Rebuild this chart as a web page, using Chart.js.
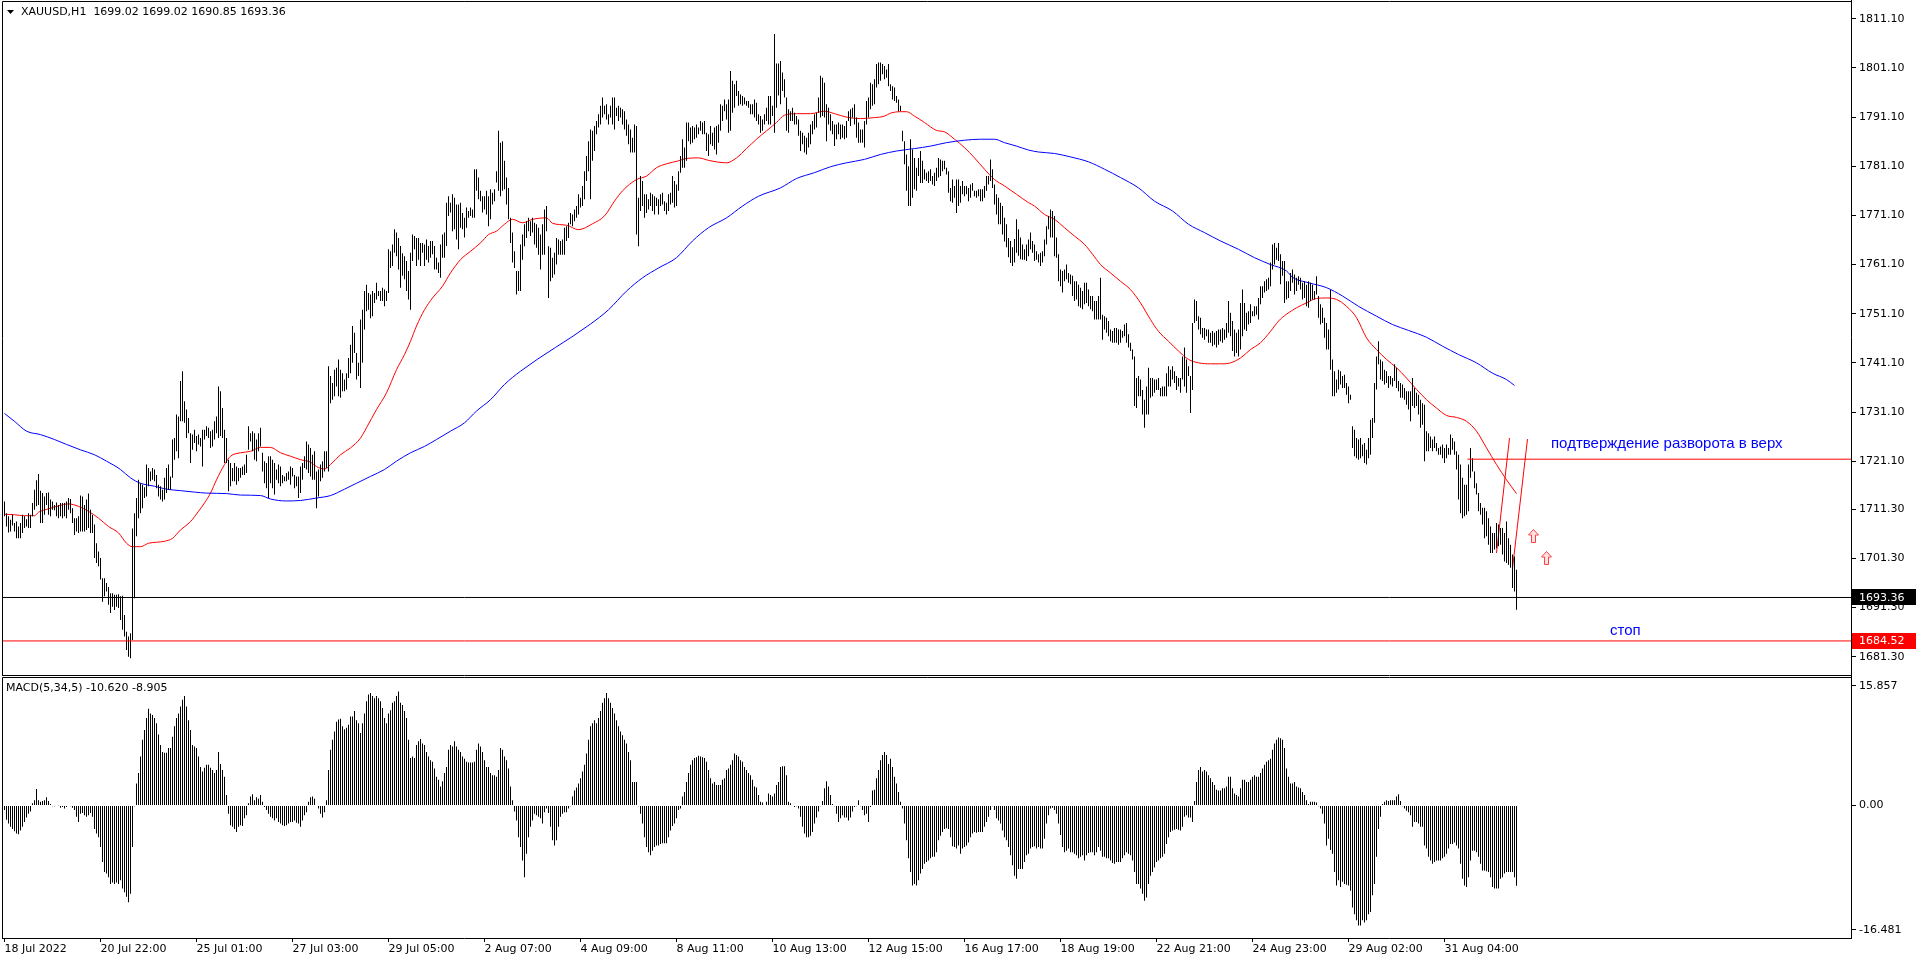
<!DOCTYPE html>
<html><head><meta charset="utf-8">
<script src="https://cdn.jsdelivr.net/npm/chart.js@4/dist/chart.umd.min.js"></script>
<style>
html,body{margin:0;padding:0;background:#fff;overflow:hidden;}
#wrap{position:relative;width:1916px;height:962px;background:#fff;}
canvas{position:absolute;left:0;}
#c1{top:0;} #c2{top:676px;}
</style></head><body>
<div id="wrap"><canvas id="c1" width="1916" height="677"></canvas><canvas id="c2" width="1916" height="286"></canvas></div>
<script>
// ---------- DATA (XAUUSD H1, bar index 0 = 18 Jul 2022 21:00) ----------
const symbolTitle = "XAUUSD,H1  1699.02 1699.02 1690.85 1693.36";
const macdTitle = "MACD(5,34,5) -10.620 -8.905";
const highs = [
1712.9,1710.5,1709.9,1709.2,1710.2,1708.5,1708.8,1707.8,1708.5,1710.2,
1709.9,1709.3,1710.5,1710.2,1712.6,1715.3,1717.2,1718.5,1715.1,1714.6,
1713.9,1714.6,1714.7,1713.3,1712.9,1712.2,1712.7,1712.2,1712.6,1712.6,
1712.6,1712.9,1713.6,1713.4,1711.5,1709.5,1709.5,1709.9,1714.1,1713.9,
1712.2,1713.3,1714.5,1711.2,1710.2,1708.2,1704.4,1702.7,1701.4,1697.3,
1697.3,1696.3,1695.5,1694.2,1694.2,1693.9,1693.9,1694.0,1693.6,1693.7,
1689.8,1686.4,1685.4,1686.1,1707.4,1710.5,1713.6,1717.3,1716.6,1716.3,
1715.8,1720.4,1719.7,1719.0,1719.7,1719.4,1718.3,1716.3,1716.0,1715.3,
1717.7,1719.7,1720.4,1718.0,1725.5,1725.8,1730.6,1730.2,1737.4,1739.4,
1733.3,1731.6,1729.9,1726.8,1726.5,1727.5,1726.2,1726.5,1725.8,1727.5,
1727.5,1728.2,1727.9,1727.2,1727.5,1729.2,1730.2,1736.3,1735.3,1731.9,
1727.5,1725.8,1721.4,1720.7,1719.7,1720.7,1720.0,1719.7,1719.7,1720.0,
1720.4,1722.4,1728.2,1726.8,1727.2,1726.8,1725.5,1726.8,1727.9,1722.8,
1721.1,1720.7,1722.1,1722.1,1721.4,1720.7,1719.4,1720.4,1720.0,1718.3,
1718.0,1718.7,1719.0,1720.0,1719.7,1718.3,1718.0,1718.0,1720.0,1720.7,
1722.1,1725.1,1724.5,1723.8,1722.4,1723.1,1719.0,1719.4,1720.4,1721.1,
1723.1,1723.1,1740.4,1738.4,1737.0,1739.7,1740.1,1741.8,1739.7,1739.0,
1737.7,1739.0,1742.1,1744.8,1748.6,1747.2,1743.1,1741.1,1749.9,1751.9,
1755.7,1757.0,1755.3,1755.0,1755.7,1755.3,1757.4,1755.7,1755.7,1756.4,
1756.0,1755.7,1764.2,1763.8,1765.2,1768.3,1767.6,1766.5,1764.9,1763.4,
1762.8,1761.8,1759.8,1763.5,1767.2,1766.9,1766.5,1766.5,1765.5,1765.5,
1765.2,1766.2,1764.9,1765.9,1765.9,1764.9,1762.5,1761.5,1765.2,1767.2,
1767.6,1773.7,1775.0,1773.7,1775.4,1774.7,1773.3,1773.3,1773.7,1771.6,
1770.6,1772.7,1772.0,1772.7,1772.3,1780.5,1780.5,1778.8,1776.1,1775.0,
1775.0,1776.1,1775.0,1776.4,1775.7,1776.4,1780.1,1788.3,1785.9,1786.2,
1782.2,1778.8,1776.7,1770.6,1767.6,1763.8,1759.8,1759.8,1765.2,1767.2,
1769.3,1769.9,1770.6,1769.9,1770.6,1769.6,1769.3,1768.6,1767.2,1769.3,
1772.3,1773.0,1764.8,1764.5,1762.5,1763.5,1766.5,1766.2,1765.9,1766.2,
1768.6,1768.9,1769.6,1771.6,1771.3,1772.3,1773.0,1775.4,1774.7,1777.1,
1780.1,1783.2,1786.2,1788.6,1788.3,1789.3,1790.3,1791.7,1793.4,1795.1,
1793.4,1793.7,1791.7,1793.4,1795.1,1795.1,1793.0,1793.4,1793.0,1792.7,
1792.3,1790.6,1789.6,1788.6,1786.9,1789.6,1789.3,1774.7,1779.1,1778.1,
1775.4,1775.4,1774.4,1775.7,1775.4,1775.0,1774.7,1774.4,1775.4,1775.7,
1774.0,1773.7,1775.4,1775.7,1779.1,1778.1,1777.4,1780.1,1783.2,1786.6,
1784.9,1790.0,1790.0,1789.0,1789.3,1789.0,1789.6,1789.0,1790.3,1790.0,
1790.3,1787.9,1787.6,1789.3,1787.9,1789.0,1789.3,1789.6,1793.7,1793.4,
1794.7,1793.7,1794.7,1800.5,1798.5,1797.8,1798.5,1796.4,1795.7,1795.4,
1795.1,1794.4,1794.4,1793.7,1793.7,1794.7,1794.0,1791.7,1791.3,1790.6,
1791.7,1793.0,1795.4,1795.4,1793.4,1808.0,1802.0,1802.0,1802.5,1800.2,
1798.8,1795.1,1792.7,1792.3,1793.0,1792.0,1791.3,1790.6,1788.3,1787.9,
1787.3,1786.9,1787.9,1789.6,1790.3,1791.7,1792.0,1795.1,1799.5,1799.1,
1798.1,1793.7,1793.0,1791.7,1790.3,1789.6,1789.6,1790.0,1789.6,1789.6,
1789.3,1790.3,1792.3,1792.7,1793.0,1793.7,1791.0,1790.0,1788.6,1788.6,
1790.3,1794.4,1795.1,1798.1,1797.8,1798.8,1801.9,1802.2,1802.2,1801.9,
1801.5,1800.8,1801.9,1797.8,1797.4,1797.1,1795.4,1794.7,1793.4,1788.3,
1786.2,1783.5,1781.1,1786.6,1784.5,1782.8,1780.8,1782.8,1784.2,1782.2,
1780.5,1779.8,1780.1,1780.5,1779.1,1779.8,1780.8,1782.8,1782.5,1782.2,
1782.2,1780.8,1780.1,1776.7,1778.4,1777.1,1778.4,1778.4,1777.1,1778.1,
1777.1,1777.1,1776.7,1777.4,1777.7,1776.1,1776.1,1776.4,1776.4,1776.4,
1777.1,1779.1,1779.1,1782.5,1780.5,1777.4,1775.4,1774.7,1773.7,1773.0,
1770.6,1769.3,1766.5,1765.9,1764.6,1766.3,1770.3,1768.3,1766.6,1765.2,
1764.2,1765.2,1766.2,1767.6,1765.9,1765.2,1763.8,1763.2,1763.5,1763.8,
1766.2,1768.9,1771.0,1772.3,1772.0,1771.0,1766.6,1763.2,1760.1,1759.8,
1760.1,1761.1,1759.4,1759.1,1758.8,1757.7,1757.7,1757.0,1756.4,1755.7,
1757.4,1757.4,1756.0,1754.7,1754.7,1753.7,1753.7,1754.7,1758.4,1750.9,
1750.6,1750.3,1749.6,1747.9,1747.6,1748.2,1748.2,1747.9,1747.9,1747.6,
1748.9,1749.2,1746.9,1745.2,1743.8,1742.4,1738.0,1738.4,1737.7,1735.6,
1733.6,1736.3,1740.1,1738.0,1738.0,1737.7,1737.7,1738.0,1736.0,1736.3,
1736.3,1739.0,1740.4,1739.7,1740.4,1739.4,1738.4,1738.0,1738.0,1742.4,
1744.2,1741.8,1740.4,1738.4,1749.2,1754.0,1753.7,1750.6,1750.3,1748.2,
1748.2,1747.9,1747.9,1747.2,1747.6,1747.2,1747.6,1747.9,1747.9,1748.2,
1747.9,1749.2,1753.7,1751.3,1749.6,1747.9,1747.2,1747.9,1753.3,1756.0,
1753.3,1751.3,1751.6,1753.0,1751.6,1752.6,1752.6,1754.3,1756.7,1756.7,
1757.7,1758.1,1758.4,1761.5,1765.2,1765.5,1764.5,1765.5,1763.2,1761.8,
1761.8,1757.7,1757.7,1759.4,1760.1,1759.1,1758.4,1758.7,1758.4,1757.4,
1757.7,1757.0,1757.7,1757.4,1757.0,1755.7,1758.7,1754.7,1753.0,1752.3,
1750.3,1749.2,1747.9,1756.0,1741.8,1739.4,1737.7,1739.7,1739.4,1738.4,
1738.7,1737.0,1736.3,1734.6,1728.2,1727.5,1725.8,1725.5,1725.8,1724.5,
1724.8,1723.4,1725.8,1729.5,1729.9,1737.0,1742.4,1745.5,1741.8,1741.4,
1739.7,1739.4,1738.4,1738.4,1738.0,1740.8,1740.1,1737.4,1737.0,1736.7,
1736.0,1735.3,1735.3,1735.3,1738.0,1736.0,1735.0,1734.6,1733.6,1732.9,
1732.6,1727.2,1726.8,1726.1,1725.5,1726.1,1724.8,1723.8,1724.1,1724.5,
1723.8,1724.5,1723.8,1726.5,1725.8,1725.1,1723.1,1722.4,1720.4,1717.7,
1716.3,1716.3,1720.4,1723.8,1721.7,1719.0,1716.6,1714.6,1712.6,1711.6,
1711.6,1710.9,1709.5,1707.8,1706.5,1706.5,1708.5,1708.2,1707.5,1707.5,
1706.5,1708.8,1705.4,1704.1,1702.1,1701.7,1699.02];
const lows = [
1709.9,1707.8,1706.6,1706.8,1708.0,1706.8,1705.4,1705.4,1705.4,1706.5,
1707.5,1707.8,1707.5,1707.5,1709.9,1711.2,1711.9,1712.2,1708.5,1708.5,
1710.2,1712.2,1710.2,1709.9,1711.2,1711.1,1709.9,1709.5,1709.9,1709.5,
1709.9,1709.5,1711.2,1710.5,1708.5,1706.1,1706.8,1706.5,1706.8,1706.8,
1706.8,1707.1,1707.5,1706.5,1706.5,1701.4,1700.4,1699.7,1697.0,1692.5,
1693.6,1694.6,1691.9,1690.2,1691.5,1690.8,1691.5,1691.2,1688.8,1686.8,
1685.4,1682.7,1681.3,1681.0,1684.7,1693.2,1705.8,1709.5,1710.5,1711.5,
1713.6,1713.9,1716.0,1717.0,1717.3,1717.0,1715.6,1713.9,1713.3,1712.9,
1713.3,1714.6,1715.3,1715.3,1717.7,1721.4,1723.1,1721.7,1729.2,1729.2,
1728.9,1725.8,1726.8,1720.7,1723.4,1724.8,1723.1,1724.5,1724.1,1720.0,
1725.5,1726.2,1725.8,1723.8,1724.1,1725.5,1726.8,1725.8,1726.2,1725.8,
1720.7,1720.7,1715.0,1716.0,1717.0,1717.0,1716.3,1717.0,1717.7,1718.3,
1718.3,1718.7,1723.4,1725.1,1723.1,1721.4,1721.1,1723.1,1724.1,1719.0,
1716.6,1715.6,1713.6,1716.6,1715.6,1714.3,1717.3,1716.6,1716.0,1716.6,
1717.0,1717.0,1717.3,1716.3,1718.0,1715.6,1716.0,1713.6,1714.6,1717.3,
1719.7,1719.4,1718.7,1718.0,1717.3,1717.3,1711.5,1713.9,1717.0,1717.7,
1719.0,1719.7,1719.0,1732.9,1733.6,1734.3,1736.3,1734.3,1734.0,1735.3,
1735.3,1735.7,1738.0,1739.0,1741.1,1743.1,1737.7,1738.4,1736.0,1741.1,
1747.9,1751.6,1751.9,1750.2,1750.6,1753.3,1754.0,1754.7,1753.7,1753.7,
1752.6,1753.7,1755.3,1760.4,1760.8,1763.5,1762.8,1760.1,1756.4,1758.8,
1758.1,1755.7,1754.0,1751.9,1761.8,1764.2,1760.8,1762.1,1760.8,1763.5,
1760.8,1762.1,1761.5,1762.5,1763.2,1760.1,1760.1,1759.4,1758.4,1762.5,
1762.5,1764.9,1771.0,1771.7,1767.9,1768.3,1766.2,1764.2,1768.6,1768.3,
1766.6,1768.6,1770.6,1771.0,1770.6,1770.6,1776.1,1774.4,1774.0,1771.7,
1772.3,1771.3,1768.9,1770.3,1773.3,1774.0,1777.8,1776.1,1775.0,1776.1,
1776.4,1773.3,1770.3,1765.5,1761.5,1760.4,1755.0,1755.7,1755.7,1762.1,
1764.8,1766.5,1767.9,1766.9,1767.6,1765.2,1764.5,1763.1,1760.1,1763.1,
1763.1,1767.9,1754.3,1757.7,1758.4,1759.1,1761.1,1763.1,1763.1,1763.1,
1763.1,1765.9,1766.5,1769.3,1768.9,1769.9,1770.6,1771.3,1772.7,1773.0,
1774.4,1778.1,1780.1,1774.4,1782.2,1784.2,1787.6,1789.0,1789.6,1791.0,
1791.7,1790.6,1789.6,1791.0,1789.6,1788.6,1791.3,1790.3,1791.0,1789.6,
1788.6,1787.3,1785.6,1783.9,1783.9,1783.9,1767.2,1764.8,1772.0,1773.0,
1770.6,1771.6,1772.3,1773.0,1772.0,1771.3,1773.0,1771.3,1773.0,1773.3,
1772.0,1771.3,1772.0,1773.3,1773.7,1772.7,1773.0,1776.1,1779.8,1780.8,
1780.8,1782.2,1786.2,1785.6,1785.9,1786.6,1786.9,1787.6,1788.3,1787.6,
1787.6,1784.2,1783.2,1785.6,1785.2,1784.5,1783.5,1785.9,1788.3,1790.3,
1792.3,1790.6,1787.9,1788.3,1792.0,1793.0,1795.4,1793.4,1793.7,1793.4,
1793.7,1793.4,1793.0,1791.7,1791.7,1791.0,1790.3,1789.6,1787.9,1788.3,
1789.6,1790.3,1789.6,1789.6,1791.3,1787.9,1793.0,1795.5,1793.7,1796.4,
1795.1,1788.3,1787.9,1790.3,1790.3,1789.6,1789.6,1787.3,1784.2,1785.6,
1783.9,1783.5,1784.9,1785.6,1787.6,1788.6,1789.0,1792.0,1791.0,1791.3,
1791.0,1786.2,1789.6,1788.3,1787.6,1785.2,1786.6,1787.6,1786.6,1786.9,
1786.6,1786.9,1790.3,1789.3,1791.0,1789.6,1786.9,1785.9,1785.9,1785.9,
1784.9,1789.6,1791.0,1792.7,1793.4,1793.7,1797.1,1797.8,1798.5,1799.8,
1798.8,1799.1,1797.4,1796.4,1794.7,1794.4,1794.0,1792.3,1792.3,1786.2,
1781.5,1776.1,1773.0,1773.0,1774.7,1776.4,1776.1,1779.1,1777.7,1777.7,
1778.4,1778.1,1777.7,1778.1,1777.4,1777.1,1778.1,1778.8,1779.1,1780.1,
1780.5,1779.4,1775.7,1774.0,1773.7,1774.7,1771.6,1773.0,1773.7,1775.4,
1775.0,1775.4,1774.0,1774.7,1776.1,1775.0,1774.7,1775.0,1774.0,1774.0,
1774.7,1776.1,1777.4,1778.1,1776.7,1773.3,1771.3,1769.3,1769.3,1767.2,
1765.8,1764.6,1762.6,1761.4,1760.8,1761.5,1763.5,1762.9,1762.2,1762.1,
1762.1,1761.8,1762.8,1764.2,1763.5,1761.8,1762.1,1761.5,1760.8,1761.5,
1762.8,1765.2,1768.3,1766.6,1766.6,1762.8,1762.5,1757.7,1756.7,1755.4,
1757.7,1758.1,1757.4,1757.1,1754.7,1753.7,1754.0,1752.6,1752.3,1752.0,
1753.0,1753.3,1752.6,1752.0,1751.6,1749.9,1749.9,1749.9,1749.9,1745.8,
1747.9,1747.2,1746.5,1745.5,1745.2,1745.2,1745.2,1744.8,1745.2,1746.2,
1746.5,1745.2,1744.2,1743.5,1741.8,1732.3,1731.9,1734.3,1734.3,1730.6,
1727.9,1730.6,1730.6,1734.0,1734.3,1735.0,1735.6,1735.6,1734.3,1734.3,
1734.3,1734.3,1736.3,1736.3,1737.7,1737.0,1735.6,1736.3,1735.0,1737.7,
1736.3,1735.0,1738.4,1730.9,1735.6,1749.2,1749.6,1747.9,1746.9,1746.2,
1745.8,1746.5,1745.2,1745.2,1744.5,1744.8,1744.2,1744.8,1745.5,1745.2,
1745.8,1746.2,1747.2,1746.5,1743.5,1742.4,1743.1,1742.4,1743.8,1746.5,
1747.9,1747.6,1748.9,1749.2,1750.6,1750.6,1750.9,1749.9,1753.0,1754.3,
1755.4,1755.7,1756.0,1756.7,1760.1,1761.1,1762.1,1761.8,1757.1,1758.8,
1753.3,1754.0,1754.3,1755.7,1757.4,1755.0,1755.7,1757.0,1756.0,1754.0,
1754.3,1752.6,1752.3,1753.7,1754.0,1754.0,1755.0,1750.3,1748.9,1749.2,
1746.2,1743.8,1743.8,1739.7,1734.3,1734.3,1735.0,1735.7,1736.7,1736.0,
1736.0,1734.6,1732.9,1733.6,1723.8,1722.1,1721.7,1721.4,1721.7,1722.1,
1720.7,1720.4,1721.7,1722.4,1725.8,1728.9,1735.7,1740.8,1737.7,1737.4,
1736.7,1737.0,1736.0,1736.7,1736.3,1737.4,1736.0,1735.3,1734.0,1734.0,
1733.6,1732.6,1731.6,1729.2,1732.3,1731.9,1732.3,1730.6,1727.9,1728.5,
1721.1,1723.1,1723.1,1723.8,1723.1,1723.8,1723.1,1722.4,1722.4,1721.7,
1720.7,1721.7,1722.4,1722.4,1723.4,1722.4,1719.4,1713.3,1710.5,1709.5,
1709.9,1710.2,1710.9,1717.7,1719.0,1715.6,1714.3,1710.9,1710.2,1708.2,
1705.4,1705.8,1704.1,1702.4,1702.4,1703.1,1703.4,1703.8,1704.1,1702.1,
1700.7,1700.4,1700.0,1699.4,1695.3,1694.6,1690.85];
const macd = [
-0.6,-1.9,-2.4,-2.8,-3.1,-3.4,-3.7,-3.8,-3.3,-2.8,
-2.2,-1.6,-1.1,-0.8,0.3,0.7,2.2,0.7,0.5,0.6,
0.7,1.1,0.6,0.2,-0.1,-0.1,0.05,-0.05,-0.3,-0.2,
-0.4,-0.2,0.0,-0.1,-0.3,-0.6,-1.5,-2.2,-1.1,-1.0,
-1.3,-1.5,-1.3,-1.0,-1.5,-3.1,-3.7,-4.2,-5.5,-7.5,
-8.8,-9.0,-9.5,-10.4,-10.2,-10.4,-10.2,-10.4,-9.9,-11.0,
-11.5,-12.1,-12.8,-11.7,-5.5,-0.1,2.9,4.3,6.5,8.7,
10.0,11.6,12.8,12.2,12.0,11.6,10.9,9.4,8.0,7.1,
7.0,7.0,7.6,7.6,9.1,10.5,11.6,12.2,13.1,14.0,
14.5,13.1,11.3,10.0,8.0,7.8,7.6,6.5,5.1,4.5,
5.0,5.4,5.4,5.0,4.7,4.3,4.7,7.1,5.5,4.7,
3.8,1.4,-1.1,-2.6,-2.8,-3.1,-3.5,-2.8,-2.6,-2.7,
-1.7,-1.3,0.3,1.2,1.5,0.7,1.1,0.9,1.4,0.5,
-0.2,-0.6,-1.1,-1.5,-1.7,-2.0,-1.7,-2.2,-2.4,-2.6,
-2.7,-2.6,-2.4,-2.2,-2.2,-2.0,-2.3,-2.4,-2.8,-2.0,
-1.3,-0.9,0.5,1.1,1.2,0.9,0.05,-0.4,-1.1,-1.6,
-0.9,0.7,4.7,7.4,8.7,9.8,11.1,11.4,11.5,10.5,
10.1,10.3,10.7,11.8,11.8,12.5,11.3,10.9,9.6,10.9,
12.2,13.8,14.7,14.9,14.5,14.2,14.5,14.2,13.8,12.9,
11.6,10.9,12.2,12.6,13.6,13.8,14.5,15.1,13.6,13.3,
12.5,11.6,8.7,6.3,6.5,6.3,8.0,8.5,8.8,8.2,
8.0,7.1,6.5,6.0,5.8,4.9,3.8,3.4,2.5,3.2,
4.3,5.1,7.4,8.0,7.8,8.5,7.8,7.4,7.1,6.5,
6.2,5.8,5.7,5.7,5.7,5.8,7.4,8.2,7.8,7.1,
6.0,5.1,5.1,4.3,4.0,4.0,3.8,4.7,7.6,7.4,
6.5,6.0,4.9,2.5,0.7,-0.8,-2.0,-4.2,-5.5,-7.3,
-9.5,-6.4,-4.2,-2.8,-2.0,-1.1,-1.3,-1.5,-1.7,-2.4,
-0.9,-0.4,-1.0,-2.8,-4.6,-5.3,-4.6,-2.8,-1.5,-1.1,
-0.9,-0.9,-0.4,-0.1,1.2,2.0,2.4,2.9,3.6,4.5,
5.4,6.9,8.7,10.5,10.9,11.3,10.9,11.6,12.5,13.6,
14.2,14.9,14.2,13.6,12.9,12.2,11.3,10.5,9.8,9.3,
8.7,8.2,7.1,6.0,3.1,3.1,3.1,-0.1,-1.1,-2.4,
-4.2,-5.5,-6.2,-6.6,-6.0,-5.5,-5.3,-5.3,-5.1,-5.0,
-5.0,-5.0,-4.2,-3.3,-2.7,-2.4,-1.7,-0.6,-0.4,1.2,
1.8,3.1,4.3,5.4,6.0,6.3,6.4,6.6,6.5,6.4,
6.3,5.8,4.7,3.6,2.9,3.1,2.7,2.7,2.7,3.4,
3.6,4.7,4.9,5.4,6.0,6.9,6.7,6.5,6.0,5.8,
5.1,4.7,4.3,4.0,3.4,2.5,2.4,1.4,0.5,0.4,
0.05,0.5,1.6,
1.4,1.2,1.6,2.7,3.1,5.1,5.2,5.2,4.0,0.5,
0.3,0.05,-0.2,-0.1,-0.4,-1.5,-2.8,-3.7,-4.2,-4.2,
-4.0,-3.5,-2.4,-1.6,-0.8,-0.1,0.6,2.3,3.2,2.5,
1.4,0.2,-0.1,-1.1,-2.2,-1.7,-1.3,-1.6,-1.6,-2.0,
-1.6,-0.8,-0.2,-0.1,0.7,-0.1,-0.6,-1.3,-1.1,-2.2,
-0.2,2.0,2.1,3.6,4.7,6.0,6.7,7.1,6.7,5.5,
6.2,5.1,3.8,2.9,1.8,0.5,-0.4,-2.4,-4.6,-7.0,
-8.8,-10.6,-10.4,-10.6,-9.9,-9.0,-8.4,-7.7,-7.5,-7.3,
-7.0,-6.8,-6.8,-6.2,-4.6,-4.0,-3.5,-3.1,-3.0,-3.1,
-4.2,-5.4,-5.5,-5.7,-5.3,-6.4,-5.7,-5.5,-5.3,-4.9,
-4.2,-3.7,-3.5,-3.6,-3.5,-3.5,-3.5,-2.8,-2.2,-1.5,
-0.6,-0.1,-0.6,-1.7,-2.0,-2.4,-3.3,-4.2,-4.6,-5.5,
-6.6,-7.9,-9.3,-9.7,-8.4,-8.4,-8.4,-7.5,-6.6,-6.4,
-5.7,-5.5,-5.4,-5.7,-5.5,-5.7,-5.7,-4.4,-2.4,-1.3,
-0.4,-0.3,-0.6,-1.1,-2.4,-3.9,-5.5,-6.2,-6.0,-5.7,
-6.2,-6.2,-6.4,-6.6,-7.0,-6.8,-6.6,-7.3,-6.6,-6.3,
-6.2,-6.2,-6.6,-6.2,-5.5,-6.0,-6.8,-6.8,-7.0,-7.0,
-7.3,-7.6,-7.7,-7.5,-7.5,-7.5,-7.0,-6.6,-6.2,-6.4,
-6.6,-7.3,-8.8,-10.4,-10.4,-11.0,-11.7,-12.6,-12.2,-10.4,
-9.3,-8.8,-8.2,-7.5,-7.3,-7.0,-6.8,-6.4,-5.1,-4.2,
-3.5,-3.3,-3.2,-3.1,-3.2,-3.3,-2.8,-1.5,-1.3,-1.6,
-1.6,-2.2,0.6,3.1,4.7,5.1,4.5,4.7,4.5,4.0,
3.6,3.1,2.7,2.1,2.0,2.0,2.3,2.3,2.5,3.8,
3.8,2.3,1.6,1.4,1.2,2.3,3.4,3.4,3.1,3.1,
3.4,3.8,4.0,3.8,3.8,4.3,4.9,5.4,5.8,6.0,
6.2,7.4,8.2,8.7,9.0,8.9,8.7,7.6,4.9,3.8,
2.9,2.9,3.1,2.5,2.4,2.3,1.8,1.4,0.7,0.2,
0.5,0.5,0.5,0.4,-0.1,-0.4,-1.1,-2.4,-5.3,-4.4,
-5.9,-6.4,-8.8,-10.6,-9.9,-10.8,-10.1,-10.4,-10.5,-10.6,
-11.3,-13.5,-14.4,-15.2,-15.9,-15.9,-15.2,-15.5,-15.2,-14.4,
-14.1,-11.9,-10.4,-6.8,-3.1,-1.5,0.2,0.5,0.7,0.6,
0.7,0.7,0.7,1.2,1.5,0.6,-0.1,-0.4,-0.7,-0.9,
-1.3,-2.8,-2.2,-2.2,-2.4,-2.8,-2.8,-5.3,-5.7,-6.8,
-7.3,-7.7,-7.5,-7.3,-7.3,-7.3,-7.0,-6.8,-6.4,-5.7,
-5.1,-5.1,-4.9,-5.3,-5.7,-7.7,-9.7,-10.6,-10.8,-9.5,
-7.3,-6.0,-6.0,-6.2,-6.8,-7.7,-8.6,-8.6,-8.7,-8.8,
-9.5,-10.8,-11.0,-11.0,-11.0,-9.7,-9.5,-9.0,-8.8,
-8.8,-8.8,-8.8,-9.5,-10.62];
// moving averages: bar index / value pairs
const redMaBars = [0,5,10,15,17,22,27,32,37,42,47,52,57,61,64,68,72,76,80,84,88,93,97,100,103,106,110,113,118,123,128,133,138,143,148,153,156,160,163,168,173,178,181,186,191,196,200,203,206,210,214,219,223,228,233,238,242,246,250,254,259,264,271,274,281,287,294,300,305,309,316,321,326,331,337,341,347,352,361,366,371,376,381,386,390,396,403,410,415,421,428,435,440,443,448,451,455,460,466,470,475,480,485,490,495,500,506,512,515,520,525,530,535,540,544,548,553,558,563,568,573,577,582,587,592,597,603,608,613,618,623,628,633,637,641,646,651,656,661,666,671,676,681,686,691,696,701,706,711,716,721,726,731,736,741,746,751,756];
const redMaVals = [1710.3,1710.2,1710.0,1710.0,1710.7,1711.4,1712.0,1712.4,1711.9,1710.9,1709.5,1707.8,1706.5,1704.4,1703.7,1703.7,1704.4,1704.6,1704.8,1705.4,1707.1,1708.8,1710.9,1712.6,1714.6,1717.3,1720.4,1722.1,1722.8,1723.1,1723.9,1723.9,1722.8,1722.1,1721.4,1720.9,1720.0,1719.5,1720.4,1722.4,1723.8,1725.8,1727.9,1731.6,1735.0,1739.7,1742.8,1745.5,1748.6,1751.9,1754.3,1756.7,1759.4,1762.1,1763.8,1765.5,1767.2,1767.9,1769.3,1770.3,1769.6,1770.3,1770.6,1769.5,1769.1,1768.2,1769.4,1771.0,1774.0,1776.1,1778.4,1779.1,1780.8,1781.6,1782.2,1782.7,1782.8,1782.3,1781.8,1782.8,1784.7,1786.6,1788.3,1790.0,1791.5,1791.8,1791.8,1792.3,1791.8,1791.1,1790.8,1791.0,1791.3,1791.9,1792.2,1792.2,1791.3,1790.0,1788.4,1788.1,1786.6,1784.9,1782.8,1780.5,1778.4,1777.1,1775.4,1773.7,1773.0,1771.3,1770.3,1768.6,1766.9,1765.2,1763.2,1761.1,1759.4,1757.7,1756.0,1753.3,1749.9,1747.5,1745.5,1743.5,1741.8,1741.1,1740.9,1740.9,1741.1,1742.1,1743.8,1745.2,1747.5,1749.6,1751.0,1752.3,1753.3,1754.2,1754.3,1754.0,1752.6,1750.3,1746.2,1743.8,1741.8,1740.1,1738.0,1735.7,1733.6,1731.9,1730.4,1730.0,1729.2,1727.2,1723.8,1720.4,1717.3,1714.5];
const blueMaBars = [0,5,11,18,25,31,38,45,51,58,63,68,75,81,88,95,101,111,118,128,133,141,148,156,163,170,176,183,190,196,203,210,216,223,230,236,243,250,258,293,302,311,319,327,336,344,352,361,369,377,388,396,405,413,421,430,438,446,455,463,471,480,488,495,500,506,512,517,525,533,542,550,558,567,575,584,592,600,608,617,625,633,641,644,652,661,669,677,686,694,702,711,719,727,736,744,751,755];
const blueMaVals = [1730.8,1729.2,1727.2,1726.5,1725.5,1724.5,1723.4,1722.4,1721.1,1719.4,1717.7,1716.6,1716.0,1715.4,1715.1,1714.8,1714.6,1714.5,1714.2,1714.1,1713.4,1713.0,1713.1,1713.6,1714.1,1715.4,1716.6,1718.0,1719.4,1721.1,1722.8,1724.1,1725.5,1727.2,1728.9,1731.3,1733.6,1736.7,1739.4,1749.0,1751.9,1755.7,1758.4,1760.4,1762.5,1765.9,1768.6,1770.6,1773.0,1775.0,1776.7,1778.6,1779.8,1781.0,1781.8,1782.5,1783.5,1784.2,1784.7,1785.2,1785.9,1786.4,1786.6,1786.6,1785.9,1785.2,1784.4,1784.0,1783.7,1783.0,1782.0,1780.5,1778.8,1776.7,1774.0,1772.0,1769.3,1767.6,1765.9,1764.2,1762.5,1761.1,1759.8,1758.5,1757.4,1756.4,1754.7,1752.6,1750.6,1748.9,1747.7,1746.3,1744.5,1742.8,1741.1,1739.0,1737.7,1736.5];
const timeTickBars = [0,48,96,144,192,240,288,336,384,432,480,528,576,624,672,720];
const timeLabels = ["18 Jul 2022","20 Jul 22:00","25 Jul 01:00","27 Jul 03:00","29 Jul 05:00","2 Aug 07:00","4 Aug 09:00","8 Aug 11:00","10 Aug 13:00","12 Aug 15:00","16 Aug 17:00","18 Aug 19:00","22 Aug 21:00","24 Aug 23:00","29 Aug 02:00","31 Aug 04:00"];
const priceTicks = [1811.10,1801.10,1791.10,1781.10,1771.10,1761.10,1751.10,1741.10,1731.10,1721.10,1711.30,1701.30,1691.30,1681.30];
const macdTicks = [15.857,0,-16.481];
const macdTickLabels = ["15.857","0.00","-16.481"];
const lastPrice = 1693.36;
const stopPrice = 1684.52;
const confirmPrice = 1721.5;
const confirmStartBar = 731.5;
const trendLine1 = [[746,1702.4],[752.5,1725.8]];
const trendLine2 = [[754,1699.3],[761.5,1725.6]];
const arrowMarks = [[764.25,1705.9],[770.75,1701.4]];
const confirmText = {bar:773.25, price:1724.6, text:"подтверждение разворота в верх"};
const stopText = {bar:802.75, price:1686.65, text:"стоп"};

// ---------- CHART ----------
Chart.defaults.font.family = "DejaVu Sans";
Chart.defaults.font.size = 11;
Chart.defaults.color = "#000";
const XMIN = -1.25, XMAX = 923.75;
const FONT = '11px "DejaVu Sans"';
const n = Math.min(highs.length, lows.length);
const barData = [];
for (let i = 0; i < n; i++) barData.push({x:i, y:[lows[i], highs[i]]});
const pts = (xs, ys) => xs.map((x,i)=>({x:x, y:ys[i]}));
const lineDs = (data, color, extra) => Object.assign({type:'line', data, borderColor:color, borderWidth:1, pointRadius:0, fill:false}, extra||{});
const fixY = (s) => { s.width = 64; s.paddingTop = 0; s.paddingBottom = 0; };

const framePlugin = () => ({
  id:'frame',
  afterDraw(chart){
    const c = chart.ctx, a = chart.chartArea;
    c.save(); c.strokeStyle='#000'; c.lineWidth=1; c.beginPath();
    c.moveTo(a.left+0.5, a.top-0.5); c.lineTo(a.right, a.top-0.5);
    c.moveTo(a.left+0.5, a.top-0.5); c.lineTo(a.left+0.5, a.bottom+0.5);
    c.moveTo(a.right-0.5, 0); c.lineTo(a.right-0.5, a.bottom+0.5);
    c.moveTo(a.left, a.bottom+0.5); c.lineTo(a.right, a.bottom+0.5);
    c.stroke(); c.restore();
  }
});

function drawUpArrow(c, x, y){
  // outlined up-arrow (MT4 arrow object), centred on x,y
  c.beginPath();
  c.moveTo(x, y-7);
  c.lineTo(x+5, y-1.5);
  c.lineTo(x+2, y-1.5);
  c.lineTo(x+2, y+6);
  c.lineTo(x-2, y+6);
  c.lineTo(x-2, y-1.5);
  c.lineTo(x-5, y-1.5);
  c.closePath();
  c.fillStyle = '#ffe2e2'; c.fill();
  c.strokeStyle = '#ff4040'; c.lineWidth = 1; c.stroke();
}

const mainAnno = {
  id:'mainAnno',
  afterDatasetsDraw(chart){
    const c = chart.ctx, xs = chart.scales.x, ys = chart.scales.y;
    c.save();
    c.fillStyle = '#0000ff'; c.font = '15px "Liberation Sans"'; c.textAlign='left'; c.textBaseline='middle';
    c.fillText(confirmText.text, xs.getPixelForValue(confirmText.bar), ys.getPixelForValue(confirmText.price));
    c.fillText(stopText.text, xs.getPixelForValue(stopText.bar), ys.getPixelForValue(stopText.price));
    arrowMarks.forEach(m => drawUpArrow(c, Math.round(xs.getPixelForValue(m[0]))+0.5, Math.round(ys.getPixelForValue(m[1]))+0.5));
    c.restore();
  },
  afterDraw(chart){
    const c = chart.ctx, ys = chart.scales.y, a = chart.chartArea;
    c.save();
    c.fillStyle='#000';
    c.beginPath(); c.moveTo(7,10); c.lineTo(14,10); c.lineTo(10.5,14); c.closePath(); c.fill();
    c.font = FONT; c.textAlign='left'; c.textBaseline='middle';
    c.fillText(symbolTitle, 21, 12.5);
    const box = (v, bg) => {
      const y = ys.getPixelForValue(v);
      c.fillStyle = bg; c.fillRect(a.right, Math.round(y)-8, 1916-a.right, 16);
      c.fillStyle = '#fff'; c.fillText(v.toFixed(2), a.right+7, y+0.5);
    };
    box(lastPrice, '#000');
    box(stopPrice, '#ff0000');
    c.restore();
  }
};

new Chart(document.getElementById('c1'), {
  type:'bar',
  data:{datasets:[
    lineDs([{x:XMIN,y:lastPrice},{x:XMAX,y:lastPrice}], '#000'),
    lineDs([{x:XMIN,y:stopPrice},{x:XMAX,y:stopPrice}], '#ff0000'),
    lineDs([{x:confirmStartBar,y:confirmPrice},{x:XMAX,y:confirmPrice}], '#ff0000'),
    {type:'bar', data:barData, backgroundColor:'#000', barThickness:1, inflateAmount:0, borderWidth:0, borderSkipped:false, grouped:false},
    lineDs(pts(blueMaBars, blueMaVals), '#0000ff', {cubicInterpolationMode:'monotone'}),
    lineDs(pts(redMaBars, redMaVals), '#ff0000', {cubicInterpolationMode:'monotone'}),
    lineDs(trendLine1.map(p=>({x:p[0],y:p[1]})), '#ff0000'),
    lineDs(trendLine2.map(p=>({x:p[0],y:p[1]})), '#ff0000')
  ]},
  options:{
    animation:false, responsive:false, devicePixelRatio:1,
    layout:{padding:{left:2, top:2, right:0, bottom:2}},
    plugins:{legend:{display:false}, tooltip:{enabled:false}},
    scales:{
      x:{type:'linear', min:XMIN, max:XMAX, display:false, offset:false},
      y:{position:'right', min:1677.59, max:1814.52,
         afterFit: fixY,
         afterBuildTicks(s){ s.ticks = priceTicks.map(v=>({value:v})); },
         ticks:{callback:(v)=>Number(v).toFixed(2), padding:3, color:'#000', font:{family:'DejaVu Sans', size:11}},
         grid:{drawOnChartArea:false, tickLength:4, color:'#000'},
         border:{display:false}}
    }
  },
  plugins:[framePlugin(), mainAnno]
});

const macdAnno = {
  id:'macdAnno',
  afterDraw(chart){
    const c = chart.ctx;
    c.save(); c.fillStyle='#000'; c.font = FONT; c.textAlign='left'; c.textBaseline='middle';
    c.fillText(macdTitle, 6, 12.5);
    c.restore();
  }
};

new Chart(document.getElementById('c2'), {
  type:'bar',
  data:{datasets:[
    {data: macd.map((v,i)=>({x:i, y:v})), backgroundColor:'#000', barThickness:1, inflateAmount:0, borderWidth:0, borderSkipped:false, grouped:false}
  ]},
  options:{
    animation:false, responsive:false, devicePixelRatio:1,
    layout:{padding:{left:2, top:2, right:0, bottom:0}},
    plugins:{legend:{display:false}, tooltip:{enabled:false}},
    scales:{
      x:{type:'linear', min:XMIN, max:XMAX, offset:false,
         afterFit(s){ s.height = 24; s.paddingLeft = 0; s.paddingRight = 0; },
         afterBuildTicks(s){ s.ticks = timeTickBars.map(v=>({value:v})); },
         ticks:{callback:(v,i)=>timeLabels[i], align:'start', maxRotation:0, minRotation:0, autoSkip:false, padding:1, color:'#000', font:{family:'DejaVu Sans', size:11}},
         grid:{drawOnChartArea:false, tickLength:4, color:'#000', offset:false},
         border:{display:false}},
      y:{position:'right', min:-17.55, max:16.887,
         afterFit: fixY,
         afterBuildTicks(s){ s.ticks = macdTicks.map(v=>({value:v})); },
         ticks:{callback:(v,i)=>macdTickLabels[i], padding:3, color:'#000', font:{family:'DejaVu Sans', size:11}},
         grid:{drawOnChartArea:false, tickLength:4, color:'#000'},
         border:{display:false}}
    }
  },
  plugins:[framePlugin(), macdAnno]
});
</script>
</body></html>
